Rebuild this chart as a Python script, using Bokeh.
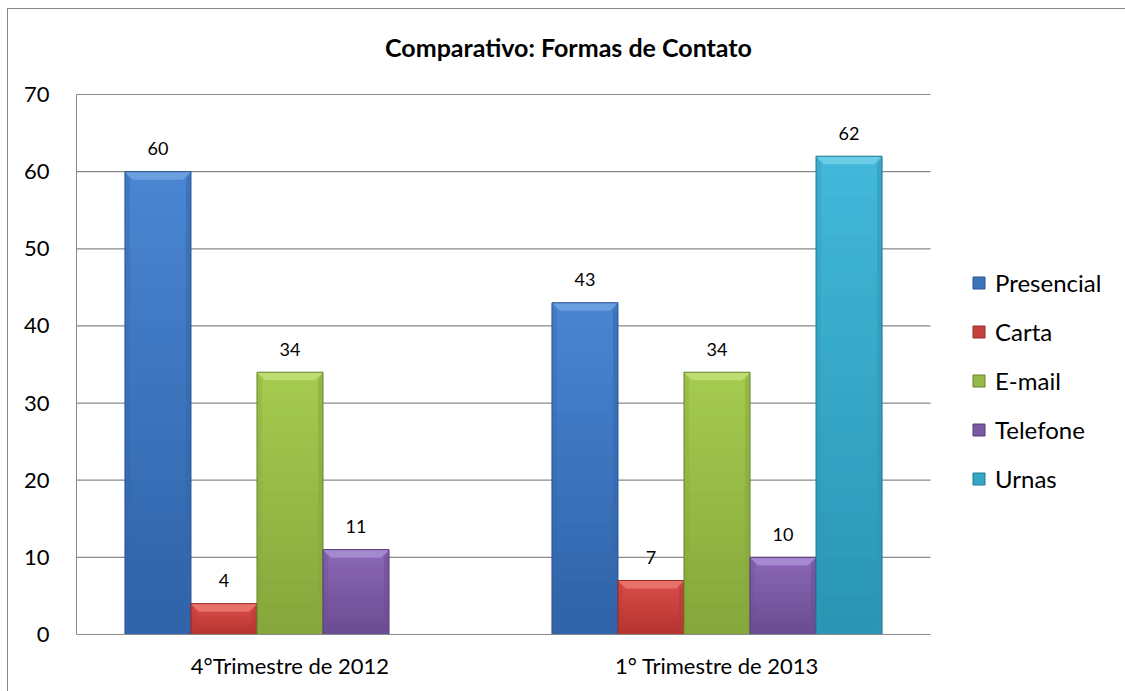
from bokeh.plotting import figure
from bokeh.models import Range1d, FixedTicker, Legend, LegendItem, ColumnDataSource, Label
from bokeh.core.properties import value
from bokeh.embed import file_html
from bokeh.resources import INLINE

# ---------------- data ----------------
categories = ["4°Trimestre de 2012", "1° Trimestre de 2013"]
series_names = ["Presencial", "Carta", "E-mail", "Telefone", "Urnas"]
presencial = [60, 43]
carta = [4, 7]
email = [34, 34]
telefone = [11, 10]
urnas = [None, 62]
y_ticks = [0, 10, 20, 30, 40, 50, 60, 70]
title_text = "Comparativo: Formas de Contato"

series_values = [presencial, carta, email, telefone, urnas]

# colours: (gradient top, gradient bottom, top bevel, side, outline)
palette = [
    ("#4a86d2", "#2f62a7", "#6a9fe0", "#3466ad", "#2a558e"),
    ("#d9504b", "#b5322e", "#e8716b", "#b93834", "#952d29"),
    ("#a6cb50", "#85a63b", "#bddc72", "#86a83d", "#67842e"),
    ("#8b68b6", "#6a4b91", "#a68ad0", "#6d4f95", "#563c78"),
    ("#42b8da", "#2a95b3", "#6ccde6", "#2e98b6", "#237993"),
]

FONT = "Lato"
GRID = "#8a8a8a"


def mix(c1, c2, f):
    a = [int(c1[i:i + 2], 16) for i in (1, 3, 5)]
    b = [int(c2[i:i + 2], 16) for i in (1, 3, 5)]
    return "#" + "".join("%02x" % round(a[k] + (b[k] - a[k]) * f) for k in range(3))


# geometry (pixels)
W, H = 1117, 682            # figure size (placed at 8,9 in the page)
LEFT, BOTTOM = 68, 57       # borders holding the axes
PLOT_W, PLOT_H = 854, 540   # size of the 0..2 x 0..70 plot area
frame_w = W - LEFT
frame_h = H - BOTTOM
x_end = 2.0 * frame_w / PLOT_W
y_end = 70.0 * frame_h / PLOT_H

p = figure(width=W, height=H, margin=(9, 0, 0, 8),
           x_range=Range1d(0, x_end), y_range=Range1d(0, y_end),
           output_backend="svg", toolbar_location=None,
           min_border_left=LEFT, min_border_right=0,
           min_border_top=0, min_border_bottom=BOTTOM)
p.styles = {"outline": "1px solid #868686"}
p.outline_line_color = None
p.background_fill_color = "white"
p.border_fill_color = "white"

# title
p.add_layout(Label(x=492, y=588, x_units="screen", y_units="screen",
                   text=title_text, text_align="center", text_baseline="middle",
                   text_font=FONT, text_font_style="bold", text_font_size="25px",
                   text_color="black"))

# axes
p.yaxis.bounds = (0, 70)
p.yaxis.ticker = FixedTicker(ticks=y_ticks)
p.yaxis.major_label_text_font = FONT
p.yaxis.major_label_text_font_size = "22px"
p.yaxis.major_label_text_color = "black"
p.yaxis.major_tick_line_color = None
p.yaxis.minor_tick_line_color = None
p.yaxis.axis_line_color = GRID
p.yaxis.major_label_standoff = 21

p.xaxis.bounds = (0, 2)
p.xaxis.ticker = FixedTicker(ticks=[0.5, 1.5])
p.xaxis.major_label_overrides = {0.5: categories[0], 1.5: categories[1]}
p.xaxis.major_label_text_font = FONT
p.xaxis.major_label_text_font_size = "22px"
p.xaxis.major_label_text_color = "black"
p.xaxis.major_tick_line_color = None
p.xaxis.minor_tick_line_color = None
p.xaxis.axis_line_color = GRID
p.xaxis.major_label_standoff = 11

p.xgrid.grid_line_color = None
p.ygrid.grid_line_color = None
gy = [t for t in y_ticks if t > 0]
p.segment(x0=[0] * len(gy), x1=[2] * len(gy), y0=gy, y1=gy,
          line_color=GRID, line_width=1.2)

# bar geometry
n = len(series_names)
bar_w = 0.1546
px_x = 2.0 / PLOT_W
px_y = 70.0 / PLOT_H
bev = 8
NB = 24

legend_items = []
for si, (name, vals) in enumerate(zip(series_names, series_values)):
    ctop, cbot, light, side, edge = palette[si]
    xs, tops, labels = [], [], []
    for ci, v in enumerate(vals):
        if v is None:
            continue
        xs.append(ci + 0.5 + (si - (n - 1) / 2) * bar_w)
        tops.append(v)
        labels.append(str(v))
    src = ColumnDataSource(dict(x=xs, top=tops, label=labels))
    r_body = p.vbar(x="x", top="top", bottom=0, width=bar_w, source=src,
                    fill_color=mix(ctop, cbot, 0.5), line_color=None)
    # vertical gradient bands
    ql, qr, qb, qt, qc = [], [], [], [], []
    for x, t in zip(xs, tops):
        for k in range(NB):
            ql.append(x - bar_w / 2); qr.append(x + bar_w / 2)
            qb.append(t * k / NB); qt.append(t * (k + 1) / NB + 0.02)
            qc.append(mix(cbot, ctop, (k + 0.5) / NB))
    p.quad(left=ql, right=qr, bottom=qb, top=qt, fill_color=qc, line_color=None)
    # bevel
    pxs, pys, pcs, pal = [], [], [], []
    for x, t in zip(xs, tops):
        x0, x1 = x - bar_w / 2, x + bar_w / 2
        dx, dy = bev * px_x, bev * px_y
        sdx, sdy = 5 * px_x, 5 * px_y
        pxs.append([x0, x1, x1 - sdx, x0 + sdx]); pys.append([0, 0, sdy, sdy]); pcs.append(side); pal.append(0.45)
        pxs.append([x0, x0 + sdx, x0 + sdx, x0]); pys.append([0, sdy, t - dy, t]); pcs.append(side); pal.append(0.35)
        pxs.append([x1, x1 - sdx, x1 - sdx, x1]); pys.append([0, sdy, t - dy, t]); pcs.append(side); pal.append(0.55)
        pxs.append([x0, x1, x1 - dx, x0 + dx]); pys.append([t, t, t - dy, t - dy]); pcs.append(light); pal.append(1.0)
    p.patches(xs=pxs, ys=pys, fill_color=pcs, fill_alpha=pal, line_color=None)
    r_edge = p.vbar(x="x", top="top", bottom=0, width=bar_w, source=src,
                    fill_color=None, line_color=edge, line_width=1)
    p.text(x="x", y="top", text="label", source=src, text_align="center",
           text_baseline="middle", y_offset=-23, text_font=value(FONT),
           text_font_size="18px", text_color="black")
    legend_items.append(LegendItem(label=name, renderers=[r_body, r_edge]))

legend = Legend(items=legend_items, location=(895, 141))
legend.label_text_font = FONT
legend.label_text_font_size = "24px"
legend.label_text_color = "black"
legend.glyph_width = 15
legend.glyph_height = 15
legend.label_standoff = 9
legend.label_height = 20
legend.spacing = 20
legend.padding = 0
legend.margin = 0
legend.border_line_color = None
legend.background_fill_alpha = 0
p.add_layout(legend, "center")

open("out.html", "w").write(file_html(p, INLINE))
